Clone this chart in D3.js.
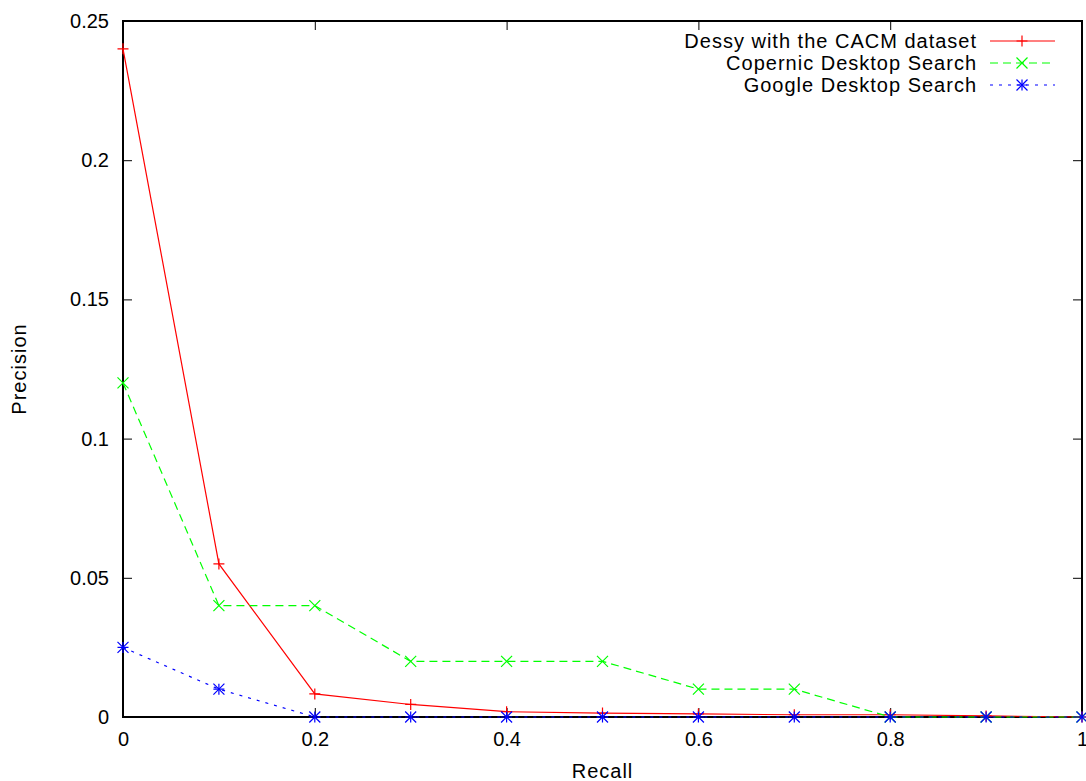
<!DOCTYPE html>
<html>
<head>
<meta charset="utf-8">
<script src="https://cdn.jsdelivr.net/npm/d3@7"></script>
<style>
  body { margin: 0; background: #fff; }
  svg text { font-family: "Liberation Sans", Arial, sans-serif; font-size: 20px; fill: #000; }
  .label { letter-spacing: 1px; }
</style>
</head>
<body>
<div id="chart"></div>
<script>
// data
var recall = [0, 0.1, 0.2, 0.3, 0.4, 0.5, 0.6, 0.7, 0.8, 0.9, 1];
var dessy = [0.24, 0.055, 0.0083, 0.0045, 0.0019, 0.0014, 0.0011, 0.0008, 0.0008, 0.0004, 0];
var copernic = [0.12, 0.04, 0.04, 0.02, 0.02, 0.02, 0.01, 0.01, 0, 0, 0];
var google = [0.025, 0.01, 0, 0, 0, 0, 0, 0, 0, 0, 0];
var seriesNames = ["Dessy with the CACM dataset", "Copernic Desktop Search", "Google Desktop Search"];
var xTicks = [0, 0.2, 0.4, 0.6, 0.8, 1];
var yTicks = [0, 0.05, 0.1, 0.15, 0.2, 0.25];

var W = 1086, H = 781;
var margin = { left: 123, top: 21, right: 4, bottom: 64 };
var width = W - margin.left - margin.right,
    height = H - margin.top - margin.bottom;

var svg = d3.select("#chart").append("svg")
    .attr("width", W).attr("height", H)
  .append("g")
    .attr("transform", "translate(" + margin.left + "," + margin.top + ")");

var x = d3.scaleLinear().domain([0, 1]).range([0, width]);
var y = d3.scaleLinear().domain([0, 0.25]).range([height, 0]);

var tickLen = 9;

// ticks, gnuplot style (inward, mirrored)
svg.append("g")
  .attr("transform", "translate(0," + height + ")")
  .call(d3.axisBottom(x).tickValues(xTicks).tickSize(-tickLen).tickPadding(tickLen + 6)
    .tickFormat(d3.format("")))
  .call(function(g) { g.select(".domain").remove(); });
svg.append("g")
  .call(d3.axisTop(x).tickValues(xTicks).tickSize(-tickLen).tickFormat(""))
  .call(function(g) { g.select(".domain").remove(); });
svg.append("g")
  .call(d3.axisLeft(y).tickValues(yTicks).tickSize(-tickLen).tickPadding(tickLen + 5)
    .tickFormat(d3.format("")))
  .call(function(g) { g.select(".domain").remove(); });
svg.append("g")
  .attr("transform", "translate(" + width + ",0)")
  .call(d3.axisRight(y).tickValues(yTicks).tickSize(-tickLen).tickFormat(""))
  .call(function(g) { g.select(".domain").remove(); });

svg.selectAll(".tick line").attr("stroke", "#000").attr("stroke-width", 1);
svg.selectAll(".tick text").style("font-size", "20px");

// frame
svg.append("rect")
  .attr("width", width).attr("height", height)
  .attr("fill", "none").attr("stroke", "#000").attr("stroke-width", 2);

// axis titles
svg.append("text")
  .attr("class", "label")
  .attr("x", width / 2).attr("y", height + 61)
  .attr("text-anchor", "middle")
  .text("Recall");
svg.append("text")
  .attr("class", "label")
  .attr("transform", "translate(" + (-97) + "," + (height / 2) + ") rotate(-90)")
  .attr("text-anchor", "middle")
  .text("Precision");

// marker shapes
function plus(g, cx, cy, col) {
  var s = 5.5;
  g.append("path").attr("d", "M" + (cx - s) + "," + cy + "H" + (cx + s) + "M" + cx + "," + (cy - s) + "V" + (cy + s))
    .attr("stroke", col).attr("stroke-width", 1.2).attr("fill", "none");
}
function cross(g, cx, cy, col) {
  var s = 5.5;
  g.append("path").attr("d", "M" + (cx - s) + "," + (cy - s) + "L" + (cx + s) + "," + (cy + s) +
      "M" + (cx - s) + "," + (cy + s) + "L" + (cx + s) + "," + (cy - s))
    .attr("stroke", col).attr("stroke-width", 1.2).attr("fill", "none");
}
function star(g, cx, cy, col) {
  plus(g, cx, cy, col);
  cross(g, cx, cy, col);
}

var series = [
  { name: seriesNames[0], values: dessy, color: "#ff0000", dash: null, marker: plus },
  { name: seriesNames[1], values: copernic, color: "#00ff00", dash: "8,5", marker: cross },
  { name: seriesNames[2], values: google, color: "#0000ff", dash: "3,6", marker: star }
];

var line = d3.line()
  .x(function(d) { return x(d[0]); })
  .y(function(d) { return y(d[1]); });

series.forEach(function(s) {
  var pts = recall.map(function(r, i) { return [r, s.values[i]]; });
  svg.append("path")
    .datum(pts)
    .attr("fill", "none")
    .attr("stroke", s.color)
    .attr("stroke-width", 1.2)
    .attr("stroke-dasharray", s.dash)
    .attr("d", line);
  var mg = svg.append("g");
  pts.forEach(function(p) { s.marker(mg, x(p[0]), y(p[1]), s.color); });
});

// legend
var legend = svg.append("g").attr("transform", "translate(" + (width - 105) + "," + 20 + ")");
series.forEach(function(s, i) {
  var row = legend.append("g").attr("transform", "translate(0," + (i * 22) + ")");
  row.append("text")
    .attr("class", "label")
    .attr("x", 0).attr("y", 0).attr("dy", "0.35em")
    .attr("text-anchor", "end")
    .text(s.name);
  row.append("line")
    .attr("x1", 13).attr("x2", 78).attr("y1", 0).attr("y2", 0)
    .attr("stroke", s.color).attr("stroke-width", 1.2)
    .attr("stroke-dasharray", s.dash);
  s.marker(row, 45, 0, s.color);
});
</script>
</body>
</html>
